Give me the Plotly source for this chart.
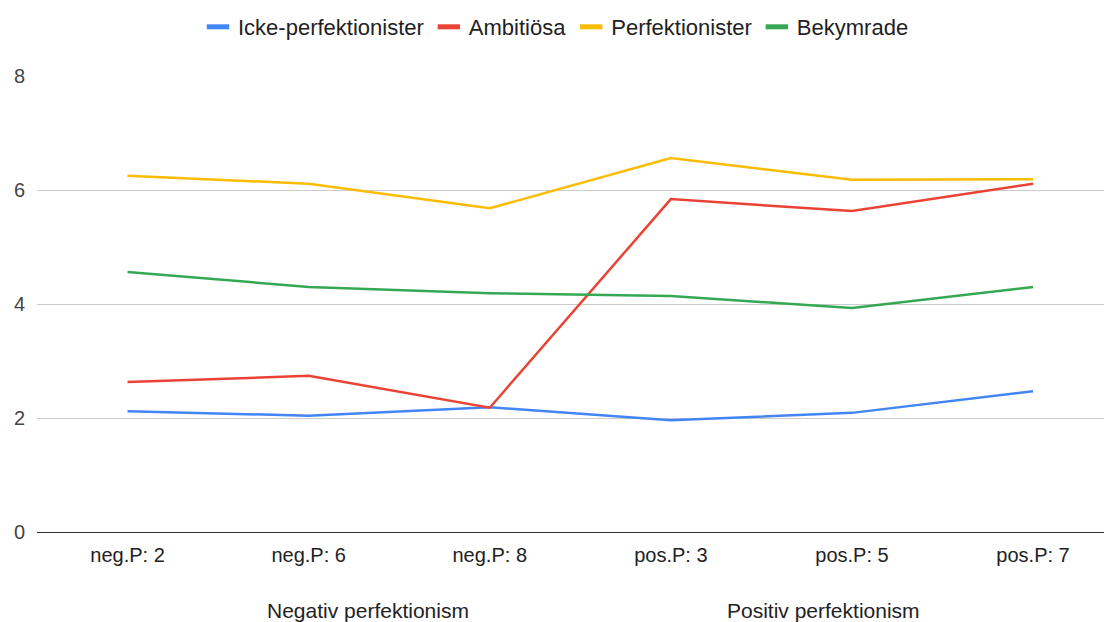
import plotly.graph_objects as go

categories = ["neg.P: 2", "neg.P: 6", "neg.P: 8", "pos.P: 3", "pos.P: 5", "pos.P: 7"]
groups = ["Negativ perfektionism", "Positiv perfektionism"]

icke = [2.12, 2.04, 2.19, 1.96, 2.09, 2.47]
ambitiosa = [2.63, 2.74, 2.18, 5.84, 5.63, 6.11]
perfektionister = [6.25, 6.11, 5.68, 6.56, 6.18, 6.19]
bekymrade = [4.56, 4.30, 4.19, 4.14, 3.93, 4.30]

series = [
    ("Icke-perfektionister", icke, "#4285F4"),
    ("Ambitiösa", ambitiosa, "#EA4335"),
    ("Perfektionister", perfektionister, "#FBBC04"),
    ("Bekymrade", bekymrade, "#34A853"),
]

FONT = "Arial, Liberation Sans, sans-serif"

# the page body adds an 8px offset; figure is sized to fill the rest of the window
W, H = 1104, 614
ML, MT, PH = 29, 68, 456

fig = go.Figure()
for name, vals, color in series:
    fig.add_trace(go.Scatter(
        x=categories, y=vals, name=name, mode="lines",
        line=dict(color=color, width=2.5), showlegend=False,
    ))
for name, vals, color in series:
    fig.add_trace(go.Scatter(
        x=[None], y=[None], name=name, mode="markers",
        marker=dict(symbol="line-ew", size=16, color=color,
                    line=dict(color=color, width=5)),
        showlegend=True,
    ))

fig.update_layout(
    width=W, height=H,
    margin=dict(l=ML, r=0, t=MT, b=H - MT - PH, autoexpand=False),
    paper_bgcolor="white", plot_bgcolor="white",
    font=dict(family=FONT, color="#222222"),
    legend=dict(
        orientation="h", x=548 / W, xref="container", xanchor="center",
        y=1 + (MT - 19) / PH, yref="paper", yanchor="middle",
        font=dict(size=22, color="#222222", family=FONT),
        itemwidth=30, traceorder="normal",
    ),
    xaxis=dict(
        type="category", range=[-0.5, 5.436], automargin=False,
        showgrid=False, showline=False, zeroline=False,
        tickfont=dict(size=20, color="#222222"),
        ticks="", ticklabelstandoff=9,
    ),
    yaxis=dict(
        range=[0, 8], tickvals=[0, 2, 4, 6, 8], automargin=False,
        showgrid=True, gridcolor="#cccccc", gridwidth=1,
        zeroline=True, zerolinecolor="#333333", zerolinewidth=1.3,
        showline=False, ticks="",
        tickfont=dict(size=20, color="#444444"),
        ticklabelstandoff=11,
    ),
)

group_centers = [1.326, 3.845]
for label, xc in zip(groups, group_centers):
    fig.add_annotation(
        x=xc, xref="x", y=-(602 - MT - PH) / PH, yref="paper", yanchor="middle",
        text=label, showarrow=False,
        font=dict(size=21, color="#222222", family=FONT),
    )

fig.write_html("out.html")
